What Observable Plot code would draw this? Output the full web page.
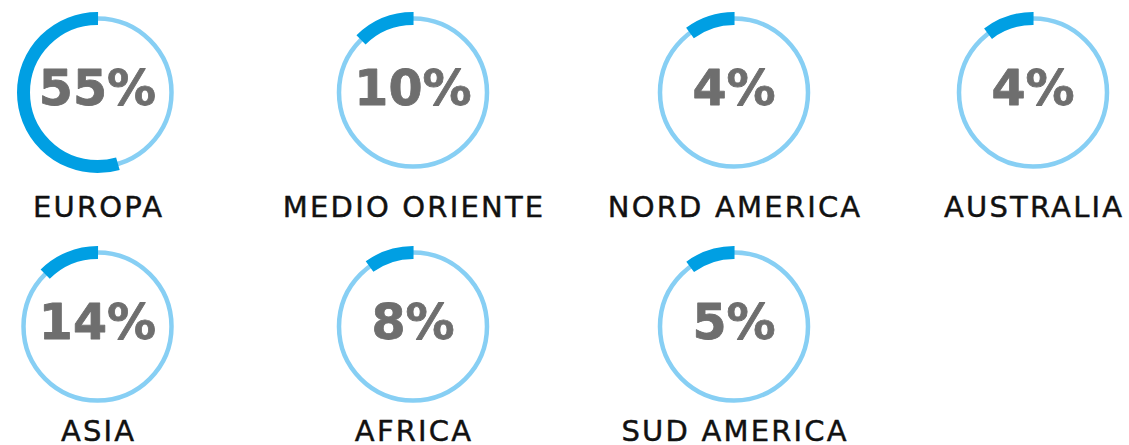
<!DOCTYPE html>
<html>
<head>
<meta charset="utf-8">
<script src="https://cdn.jsdelivr.net/npm/d3@7"></script>
<script src="https://cdn.jsdelivr.net/npm/@observablehq/plot@0.6"></script>
<style>
  html, body { margin: 0; padding: 0; background: #fff; }
  g[font-size="29"] text, g[font-size="29"] { letter-spacing: 2.2px; }
</style>
</head>
<body>
<div id="chart"></div>
<script>
// ---- data ----
const regions = ["EUROPA", "MEDIO ORIENTE", "NORD AMERICA", "AUSTRALIA", "ASIA", "AFRICA", "SUD AMERICA"];
const percents = [55, 10, 4, 4, 14, 8, 5];
// share of the ring that is filled in the picture (read from the arcs)
const arcShare = [0.545, 0.125, 0.1025, 0.105, 0.126, 0.101, 0.102];
const gridCol = [0, 1, 2, 3, 0, 1, 2];
const gridRow = [0, 0, 0, 0, 1, 1, 1];

const table = regions.map((name, i) => ({
  name, pct: percents[i], share: arcShare[i], col: gridCol[i], row: gridRow[i]
}));

// ---- style ----
const R = 74;
const C = 2 * Math.PI * R;
const light = "#87cff4";
const dark = "#009fe3";

const arcMarks = table.map(d => Plot.dot([d], {
  x: "col", y: "row", r: R,
  fill: "none", stroke: dark, strokeWidth: 13,
  // circle path starts at 3 o'clock going clockwise: place dash ending at 12 o'clock
  strokeDasharray: `0 ${(0.75 - d.share) * C} ${d.share * C} ${C}`
}));

const chart = Plot.plot({
  width: 1129,
  height: 445,
  margin: 0,
  x: {type: "linear", domain: [0, 1, 2, 3], range: [97, 412.5, 733.5, 1032.5], axis: null},
  y: {type: "linear", domain: [0, 0.5, 1, 1.5], range: [92, 207, 326, 431], axis: null},
  marks: [
    Plot.dot(table, {x: "col", y: "row", r: R, fill: "none", stroke: light, strokeWidth: 4.5}),
    ...arcMarks,
    Plot.text(table, {
      x: "col", y: "row", text: d => `${d.pct}%`, dy: -3,
      fontSize: 49, fontWeight: 900, fill: "#6e6e6e", stroke: "#6e6e6e", strokeWidth: 0.8,
      fontFamily: "DejaVu Sans", textAnchor: "middle", lineAnchor: "middle"
    }),
    Plot.text(table, {
      x: "col", y: d => d.row + 0.5, text: "name", dx: 1.1,
      fontSize: 29, fill: "#111", stroke: "#111", strokeWidth: 0.45, fontFamily: "DejaVu Sans",
      textAnchor: "middle", lineAnchor: "middle"
    })
  ]
});
document.getElementById("chart").appendChild(chart);
</script>
</body>
</html>
